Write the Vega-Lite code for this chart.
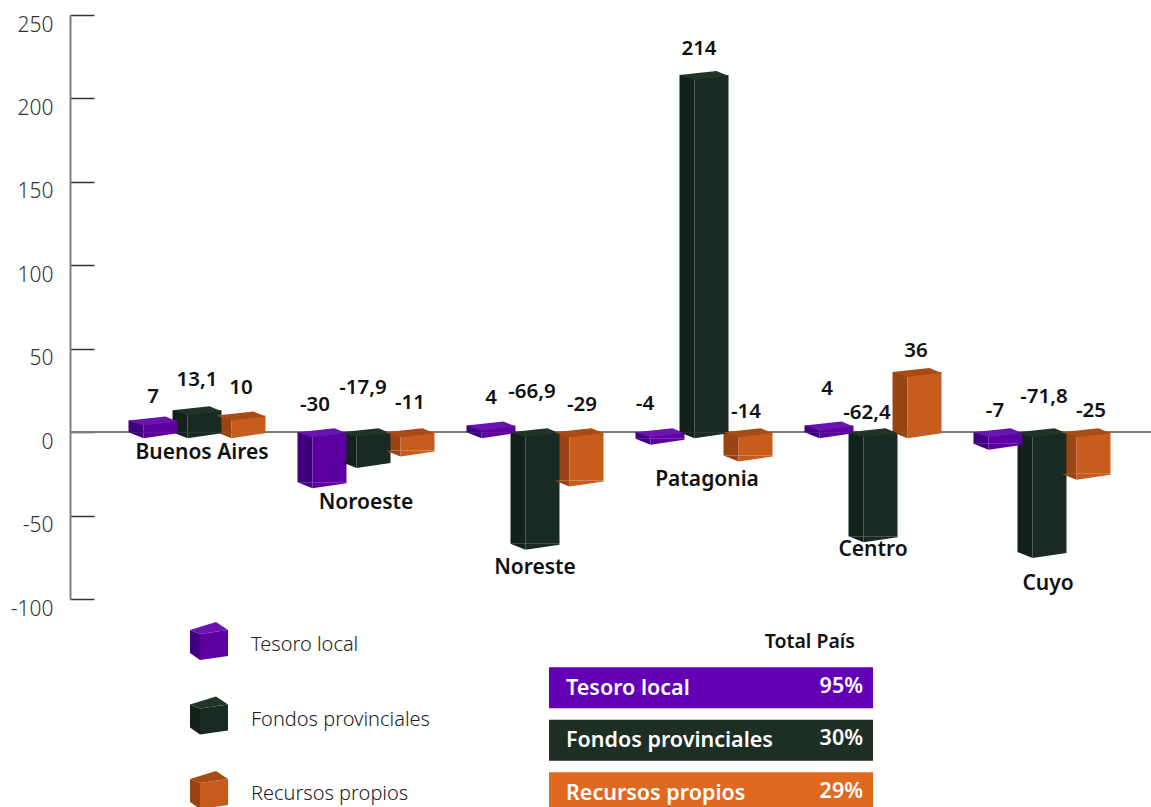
{
"$schema":"https://vega.github.io/schema/vega-lite/v6.json",
"width":1081,"height":584,
"autosize":"none",
"padding":{"left":70,"top":15,"right":0,"bottom":208},
"background":"white",
"config":{"view":{"stroke":null},"text":{"font":"Noto Sans"},"axis":{"labelFont":"Noto Sans"}},
"datasets":{
"barras":[
{"region":"Buenos Aires","serie":"Tesoro local","valor":7,"texto":"7"},
{"region":"Buenos Aires","serie":"Fondos provinciales","valor":13.1,"texto":"13,1"},
{"region":"Buenos Aires","serie":"Recursos propios","valor":10,"texto":"10"},
{"region":"Noroeste","serie":"Tesoro local","valor":-30,"texto":"-30"},
{"region":"Noroeste","serie":"Fondos provinciales","valor":-17.9,"texto":"-17,9"},
{"region":"Noroeste","serie":"Recursos propios","valor":-11,"texto":"-11"},
{"region":"Noreste","serie":"Tesoro local","valor":4,"texto":"4"},
{"region":"Noreste","serie":"Fondos provinciales","valor":-66.9,"texto":"-66,9"},
{"region":"Noreste","serie":"Recursos propios","valor":-29,"texto":"-29"},
{"region":"Patagonia","serie":"Tesoro local","valor":-4,"texto":"-4"},
{"region":"Patagonia","serie":"Fondos provinciales","valor":214,"texto":"214"},
{"region":"Patagonia","serie":"Recursos propios","valor":-14,"texto":"-14"},
{"region":"Centro","serie":"Tesoro local","valor":4,"texto":"4"},
{"region":"Centro","serie":"Fondos provinciales","valor":-62.4,"texto":"-62,4"},
{"region":"Centro","serie":"Recursos propios","valor":36,"texto":"36"},
{"region":"Cuyo","serie":"Tesoro local","valor":-7,"texto":"-7"},
{"region":"Cuyo","serie":"Fondos provinciales","valor":-71.8,"texto":"-71,8"},
{"region":"Cuyo","serie":"Recursos propios","valor":-25,"texto":"-25"}
],
"totales":[
{"bloque":"Total País","serie":"Total País","pct":""},
{"bloque":"Total País","serie":"Tesoro local","pct":"95%"},
{"bloque":"Total País","serie":"Fondos provinciales","pct":"30%"},
{"bloque":"Total País","serie":"Recursos propios","pct":"29%"}
]
},
"layer":[
{
"data":{"name":"barras"},
"encoding":{
"x":{"field":"region","type":"nominal","title":null,"axis":null,"sort":null,
"scale":{"type":"band","domain":["Buenos Aires","Noroeste","Noreste","Patagonia","Centro","Cuyo"],"range":[42.5,1056.5],"paddingInner":0,"paddingOuter":0}},
"xOffset":{"field":"serie","type":"nominal","scale":{"type":"band","domain":["Tesoro local","Fondos provinciales","Recursos propios"],"range":[0,169],"paddingInner":0,"paddingOuter":0.42}},
"y":{"field":"valor","type":"quantitative","title":null,
"scale":{"domain":[-100,250],"nice":false,"zero":false},
"axis":{"values":[-100,-50,0,50,100,150,200,250],"labelExpr":"''+datum.value","grid":false,"tickSize":-24,"tickColor":"#333333","tickWidth":1.5,"domainColor":"#7f7f7f","domainWidth":2,"labelFontSize":21,"labelColor":"#333333","labelPadding":41,"labelOffset":10,"labelFont":"Noto Sans","labelFontWeight":300}}
},
"resolve":{"scale":{"color":"independent","xOffset":"independent"}},
"layer":[
{"mark":{"type":"rule","color":"#7a7a7a","strokeWidth":1.5},"encoding":{"x":{"value":0},"x2":{"value":1081},"xOffset":{"value":0},"y":{"datum":0}}},
{"mark":{"type":"bar","width":15},"encoding":{"xOffset":{"field":"serie","type":"nominal","scale":{"type":"band","domain":["Tesoro local","Fondos provinciales","Recursos propios"],"range":[-17,152],"paddingInner":0,"paddingOuter":0.42}},"y2":{"datum":0},"color":{"field":"serie","type":"nominal","legend":null,"scale":{"domain":["Tesoro local","Fondos provinciales","Recursos propios"],"range":["#3f0080","#12221b","#9a4412"]}}}},
{"mark":{"type":"bar","width":34},"encoding":{"xOffset":{"field":"serie","type":"nominal","scale":{"type":"band","domain":["Tesoro local","Fondos provinciales","Recursos propios"],"range":[7.5,176.5],"paddingInner":0,"paddingOuter":0.42}},"y2":{"datum":0},"color":{"field":"serie","type":"nominal","legend":null,"scale":{"domain":["Tesoro local","Fondos provinciales","Recursos propios"],"range":["#5c00a3","#182a21","#c85c1c"]}}}},
{"transform":[{"filter":"datum.valor<=0"}],"mark":{"type":"point","filled":true,"opacity":1,"strokeWidth":0,"size":4,"shape":"M-24.5,0 L-9.5,0 L-9.5,6 Z"},"encoding":{"color":{"field":"serie","type":"nominal","legend":null,"scale":{"domain":["Tesoro local","Fondos provinciales","Recursos propios"],"range":["#3f0080","#12221b","#9a4412"]}}}},
{"transform":[{"filter":"datum.valor>0"}],"mark":{"type":"point","filled":true,"opacity":1,"strokeWidth":0,"size":4,"shape":"M-24.5,0 L-9.5,0 L-9.5,6 Z"},"encoding":{"y":{"datum":0},"color":{"field":"serie","type":"nominal","legend":null,"scale":{"domain":["Tesoro local","Fondos provinciales","Recursos propios"],"range":["#3f0080","#12221b","#9a4412"]}}}},
{"transform":[{"filter":"datum.valor<=0"}],"mark":{"type":"point","filled":true,"opacity":1,"strokeWidth":0,"size":4,"shape":"M-9.5,0 L24.5,0 L24.5,1 L-9.5,6 Z"},"encoding":{"color":{"field":"serie","type":"nominal","legend":null,"scale":{"domain":["Tesoro local","Fondos provinciales","Recursos propios"],"range":["#5c00a3","#182a21","#c85c1c"]}}}},
{"transform":[{"filter":"datum.valor>0"}],"mark":{"type":"point","filled":true,"opacity":1,"strokeWidth":0,"size":4,"shape":"M-9.5,0 L24.5,0 L24.5,1 L-9.5,6 Z"},"encoding":{"y":{"datum":0},"color":{"field":"serie","type":"nominal","legend":null,"scale":{"domain":["Tesoro local","Fondos provinciales","Recursos propios"],"range":["#5c00a3","#182a21","#c85c1c"]}}}},
{"transform":[{"filter":"datum.valor>0"}],"mark":{"type":"point","filled":true,"opacity":1,"strokeWidth":0,"size":4,"shape":"M-24.5,0 L12.5,-4 L24.5,1 L-9.5,5 Z"},"encoding":{"color":{"field":"serie","type":"nominal","legend":null,"scale":{"domain":["Tesoro local","Fondos provinciales","Recursos propios"],"range":["#6a14b0","#20342a","#a84c14"]}}}},
{"transform":[{"filter":"datum.valor<=0"}],"mark":{"type":"point","filled":true,"opacity":1,"strokeWidth":0,"size":4,"shape":"M-24.5,0 L12.5,-4 L24.5,1 L-9.5,5 Z"},"encoding":{"y":{"datum":0},"color":{"field":"serie","type":"nominal","legend":null,"scale":{"domain":["Tesoro local","Fondos provinciales","Recursos propios"],"range":["#6a14b0","#20342a","#a84c14"]}}}},
{"transform":[{"filter":"datum.region=='Buenos Aires'&&datum.serie=='Tesoro local'"}],"mark":{"type":"text","fontSize":20.5,"fontWeight":600,"color":"#111111","dy":-23},"encoding":{"text":{"field":"texto"}}},
{"transform":[{"filter":"datum.region=='Buenos Aires'&&datum.serie=='Fondos provinciales'"}],"mark":{"type":"text","fontSize":20.5,"fontWeight":600,"color":"#111111","dy":-30},"encoding":{"text":{"field":"texto"}}},
{"transform":[{"filter":"datum.region=='Buenos Aires'&&datum.serie=='Recursos propios'"}],"mark":{"type":"text","fontSize":20.5,"fontWeight":600,"color":"#111111","dy":-27},"encoding":{"text":{"field":"texto"}}},
{"transform":[{"filter":"datum.region=='Noroeste'&&datum.serie=='Tesoro local'"}],"mark":{"type":"text","fontSize":20.5,"fontWeight":600,"color":"#111111","dx":-7,"dy":-77},"encoding":{"text":{"field":"texto"}}},
{"transform":[{"filter":"datum.region=='Noroeste'&&datum.serie=='Fondos provinciales'"}],"mark":{"type":"text","fontSize":20.5,"fontWeight":600,"color":"#111111","dx":-3,"dy":-74},"encoding":{"text":{"field":"texto"}}},
{"transform":[{"filter":"datum.region=='Noroeste'&&datum.serie=='Recursos propios'"}],"mark":{"type":"text","fontSize":20.5,"fontWeight":600,"color":"#111111","dy":-47},"encoding":{"text":{"field":"texto"}}},
{"transform":[{"filter":"datum.region=='Noreste'&&datum.serie=='Tesoro local'"}],"mark":{"type":"text","fontSize":20.5,"fontWeight":600,"color":"#111111","dy":-27},"encoding":{"text":{"field":"texto"}}},
{"transform":[{"filter":"datum.region=='Noreste'&&datum.serie=='Fondos provinciales'"}],"mark":{"type":"text","fontSize":20.5,"fontWeight":600,"color":"#111111","dx":-3,"dy":-152},"encoding":{"text":{"field":"texto"}}},
{"transform":[{"filter":"datum.region=='Noreste'&&datum.serie=='Recursos propios'"}],"mark":{"type":"text","fontSize":20.5,"fontWeight":600,"color":"#111111","dx":3,"dy":-76},"encoding":{"text":{"field":"texto"}}},
{"transform":[{"filter":"datum.region=='Patagonia'&&datum.serie=='Tesoro local'"}],"mark":{"type":"text","fontSize":20.5,"fontWeight":600,"color":"#111111","dx":-15,"dy":-35},"encoding":{"text":{"field":"texto"}}},
{"transform":[{"filter":"datum.region=='Patagonia'&&datum.serie=='Fondos provinciales'"}],"mark":{"type":"text","fontSize":20.5,"fontWeight":600,"color":"#111111","dx":-5,"dy":-26},"encoding":{"text":{"field":"texto"}}},
{"transform":[{"filter":"datum.region=='Patagonia'&&datum.serie=='Recursos propios'"}],"mark":{"type":"text","fontSize":20.5,"fontWeight":600,"color":"#111111","dx":-2,"dy":-44},"encoding":{"text":{"field":"texto"}}},
{"transform":[{"filter":"datum.region=='Centro'&&datum.serie=='Tesoro local'"}],"mark":{"type":"text","fontSize":20.5,"fontWeight":600,"color":"#111111","dx":-2,"dy":-36},"encoding":{"text":{"field":"texto"}}},
{"transform":[{"filter":"datum.region=='Centro'&&datum.serie=='Fondos provinciales'"}],"mark":{"type":"text","fontSize":20.5,"fontWeight":600,"color":"#111111","dx":-6,"dy":-123},"encoding":{"text":{"field":"texto"}}},
{"transform":[{"filter":"datum.region=='Centro'&&datum.serie=='Recursos propios'"}],"mark":{"type":"text","fontSize":20.5,"fontWeight":600,"color":"#111111","dx":-1,"dy":-21},"encoding":{"text":{"field":"texto"}}},
{"transform":[{"filter":"datum.region=='Cuyo'&&datum.serie=='Tesoro local'"}],"mark":{"type":"text","fontSize":20.5,"fontWeight":600,"color":"#111111","dx":-3,"dy":-33},"encoding":{"text":{"field":"texto"}}},
{"transform":[{"filter":"datum.region=='Cuyo'&&datum.serie=='Fondos provinciales'"}],"mark":{"type":"text","fontSize":20.5,"fontWeight":600,"color":"#111111","dx":2,"dy":-155},"encoding":{"text":{"field":"texto"}}},
{"transform":[{"filter":"datum.region=='Cuyo'&&datum.serie=='Recursos propios'"}],"mark":{"type":"text","fontSize":20.5,"fontWeight":600,"color":"#111111","dx":5,"dy":-63},"encoding":{"text":{"field":"texto"}}},
{"transform":[{"filter":"datum.region=='Buenos Aires'"}],"mark":{"type":"text","fontSize":21,"fontWeight":600,"color":"#111111","dx":89.5,"dy":33},"encoding":{"xOffset":{"value":0},"y":{"aggregate":"min","field":"valor","type":"quantitative"},"text":{"field":"region"}}},
{"transform":[{"filter":"datum.region=='Noroeste'"}],"mark":{"type":"text","fontSize":21,"fontWeight":600,"color":"#111111","dx":84.5,"dy":21},"encoding":{"xOffset":{"value":0},"y":{"aggregate":"min","field":"valor","type":"quantitative"},"text":{"field":"region"}}},
{"transform":[{"filter":"datum.region=='Noreste'"}],"mark":{"type":"text","fontSize":21,"fontWeight":600,"color":"#111111","dx":84.5,"dy":24},"encoding":{"xOffset":{"value":0},"y":{"aggregate":"min","field":"valor","type":"quantitative"},"text":{"field":"region"}}},
{"transform":[{"filter":"datum.region=='Patagonia'"}],"mark":{"type":"text","fontSize":21,"fontWeight":600,"color":"#111111","dx":87.5,"dy":24},"encoding":{"xOffset":{"value":0},"y":{"aggregate":"min","field":"valor","type":"quantitative"},"text":{"field":"region"}}},
{"transform":[{"filter":"datum.region=='Centro'"}],"mark":{"type":"text","fontSize":21,"fontWeight":600,"color":"#111111","dx":84.5,"dy":14},"encoding":{"xOffset":{"value":0},"y":{"aggregate":"min","field":"valor","type":"quantitative"},"text":{"field":"region"}}},
{"transform":[{"filter":"datum.region=='Cuyo'"}],"mark":{"type":"text","fontSize":21,"fontWeight":600,"color":"#111111","dx":90.5,"dy":32},"encoding":{"xOffset":{"value":0},"y":{"aggregate":"min","field":"valor","type":"quantitative"},"text":{"field":"region"}}}
]
},
{
"data":{"name":"totales"},
"transform":[{"filter":"datum.serie!='Total País'"}],
"encoding":{
"x":{"field":"bloque","type":"nominal","axis":null,"scale":{"type":"band","range":[120,158],"paddingInner":0,"paddingOuter":0}},
"y":{"field":"serie","type":"nominal","axis":null,"scale":{"type":"point","domain":["Tesoro local","Fondos provinciales","Recursos propios"],"range":[626,775],"padding":0}}
},
"resolve":{"scale":{"color":"independent"}},
"layer":[
{"mark":{"type":"point","filled":true,"opacity":1,"strokeWidth":0,"size":4,"shape":"M-19,-11 L-9,-7 L-9,19 L-19,12 Z"},"encoding":{"color":{"field":"serie","type":"nominal","legend":null,"scale":{"domain":["Tesoro local","Fondos provinciales","Recursos propios"],"range":["#3f0080","#12221b","#9a4412"]}}}},
{"mark":{"type":"point","filled":true,"opacity":1,"strokeWidth":0,"size":4,"shape":"M-9,-7 L19,-11 L19,15 L-9,19 Z"},"encoding":{"color":{"field":"serie","type":"nominal","legend":null,"scale":{"domain":["Tesoro local","Fondos provinciales","Recursos propios"],"range":["#5c00a3","#182a21","#c85c1c"]}}}},
{"mark":{"type":"point","filled":true,"opacity":1,"strokeWidth":0,"size":4,"shape":"M-19,-11 L7,-19 L19,-11 L-9,-7 Z"},"encoding":{"color":{"field":"serie","type":"nominal","legend":null,"scale":{"domain":["Tesoro local","Fondos provinciales","Recursos propios"],"range":["#6a14b0","#20342a","#a84c14"]}}}},
{"mark":{"type":"text","fontSize":20,"fontWeight":300,"color":"#222222","align":"left","dx":42,"dy":4},"encoding":{"text":{"field":"serie"}}}
]
},
{
"data":{"name":"totales"},
"encoding":{
"x":{"field":"bloque","type":"nominal","axis":null,"scale":{"type":"band","range":[479,803],"paddingInner":0,"paddingOuter":0}},
"y":{"field":"serie","type":"nominal","axis":null,"scale":{"type":"band","domain":["Total País","Tesoro local","Fondos provinciales","Recursos propios"],"range":[594,804],"paddingInner":0.22,"paddingOuter":0.11}}
},
"layer":[
{"transform":[{"filter":"datum.serie!='Total País'"}],"mark":{"type":"bar"},"encoding":{"color":{"field":"serie","type":"nominal","legend":null,"scale":{"domain":["Tesoro local","Fondos provinciales","Recursos propios"],"range":["#6300b5","#1d2e25","#e0681f"]}}}},
{"transform":[{"filter":"datum.serie!='Total País'"}],"mark":{"type":"text","fontSize":21.5,"fontWeight":600,"color":"white","align":"left","dx":17,"dy":1},"encoding":{"x":{"field":"bloque","type":"nominal","bandPosition":0},"text":{"field":"serie"}}},
{"transform":[{"filter":"datum.serie!='Total País'"}],"mark":{"type":"text","fontSize":21.5,"fontWeight":600,"color":"white","align":"right","dx":-10,"dy":-1},"encoding":{"x":{"field":"bloque","type":"nominal","bandPosition":1},"text":{"field":"pct"}}},
{"transform":[{"filter":"datum.serie=='Total País'"}],"mark":{"type":"text","fontSize":19.5,"fontWeight":600,"color":"#111111","align":"right","dx":-18,"dy":7},"encoding":{"x":{"field":"bloque","type":"nominal","bandPosition":1},"text":{"field":"serie"}}}
]
}
],
"resolve":{"scale":{"x":"independent","y":"independent","color":"independent"},"axis":{"x":"independent","y":"independent"}}
}
